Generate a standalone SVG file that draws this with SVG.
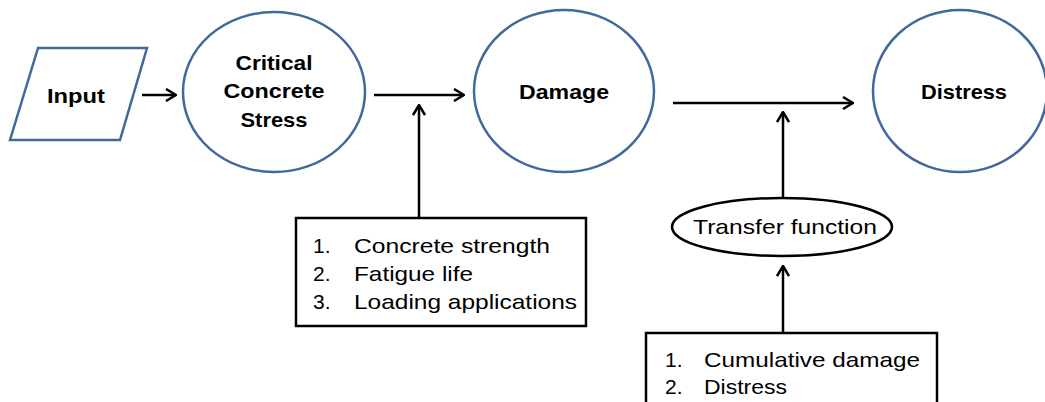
<svg xmlns="http://www.w3.org/2000/svg" width="1045" height="402" viewBox="0 0 1045 402">
<style>
.blue{fill:#fff;stroke:#41699c;stroke-width:2.5}
.blk{fill:#fff;stroke:#000;stroke-width:2.5}
.b{font-family:"Liberation Sans",Arial,sans-serif;font-weight:bold;font-size:21px;fill:#000;text-anchor:middle}
.r{font-family:"Liberation Sans",Arial,sans-serif;font-size:21px;fill:#000}
.c{stroke:#000;stroke-width:2.5;fill:none;marker-end:url(#ah)}
</style>
<defs>
<marker id="ah" viewBox="0 0 12 14" refX="11" refY="7" markerWidth="12" markerHeight="14" markerUnits="userSpaceOnUse" orient="auto">
<polyline points="1,1 11,7 1,13" fill="none" stroke="#000" stroke-width="2.5"/>
</marker>
</defs>
<g id="connectors">
<line class="c" x1="142" y1="95" x2="176" y2="95"/>
<line class="c" x1="374" y1="95" x2="464" y2="95"/>
<line class="c" x1="419" y1="217" x2="419" y2="105"/>
<line class="c" x1="673" y1="103" x2="853" y2="103"/>
<line class="c" x1="783" y1="197" x2="783" y2="112"/>
<line class="c" x1="783" y1="333" x2="783" y2="266"/>
</g>
<g id="input">
<polygon class="blue" points="38,48 147,48 120,140 10,140"/>
<text class="b" x="76" y="103" textLength="58" lengthAdjust="spacingAndGlyphs">Input</text>
</g>
<g id="critical-concrete-stress">
<ellipse class="blue" cx="274" cy="92" rx="91" ry="80"/>
<text class="b" x="274" y="70" textLength="77" lengthAdjust="spacingAndGlyphs">Critical</text>
<text class="b" x="274" y="98" textLength="101" lengthAdjust="spacingAndGlyphs">Concrete</text>
<text class="b" x="274" y="127" textLength="67" lengthAdjust="spacingAndGlyphs">Stress</text>
</g>
<g id="damage">
<ellipse class="blue" cx="564" cy="91" rx="90" ry="81"/>
<text class="b" x="564" y="99" textLength="90" lengthAdjust="spacingAndGlyphs">Damage</text>
</g>
<g id="distress">
<ellipse class="blue" cx="960" cy="91" rx="87" ry="81"/>
<text class="b" x="964" y="99" textLength="86" lengthAdjust="spacingAndGlyphs">Distress</text>
</g>
<g id="inputs-box">
<rect class="blk" x="296" y="218" width="290" height="108"/>
<text class="r" x="313" y="253">1.</text>
<text class="r" x="354" y="253" textLength="196" lengthAdjust="spacingAndGlyphs">Concrete strength</text>
<text class="r" x="313" y="281">2.</text>
<text class="r" x="354" y="281" textLength="119" lengthAdjust="spacingAndGlyphs">Fatigue life</text>
<text class="r" x="313" y="309">3.</text>
<text class="r" x="354" y="309" textLength="223" lengthAdjust="spacingAndGlyphs">Loading applications</text>
</g>
<g id="transfer-function">
<ellipse class="blk" cx="782" cy="227" rx="110" ry="29" stroke-width="2"/>
<text class="r" x="785" y="234" text-anchor="middle" textLength="184" lengthAdjust="spacingAndGlyphs">Transfer function</text>
</g>
<g id="distress-box">
<rect class="blk" x="646" y="333" width="291" height="80"/>
<text class="r" x="665" y="367">1.</text>
<text class="r" x="704" y="367" textLength="216" lengthAdjust="spacingAndGlyphs">Cumulative damage</text>
<text class="r" x="665" y="394">2.</text>
<text class="r" x="704" y="394" textLength="83" lengthAdjust="spacingAndGlyphs">Distress</text>
</g>
</svg>
